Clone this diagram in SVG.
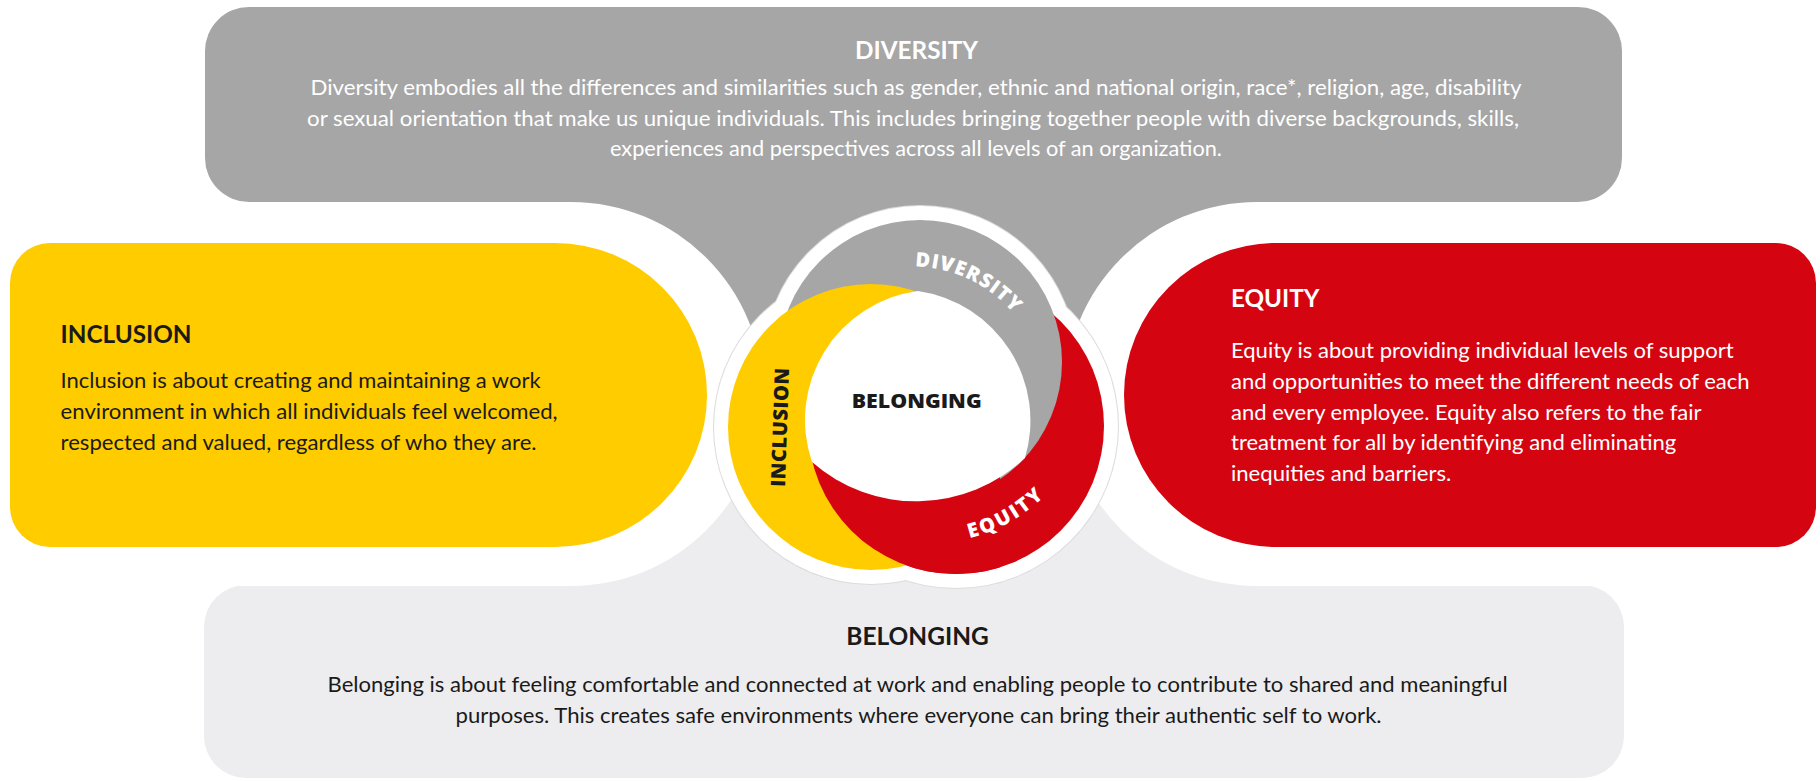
<svg xmlns="http://www.w3.org/2000/svg" width="1820" height="781" viewBox="0 0 1820 781">
  <style>
    .body { font-family: Lato, "Open Sans", "Liberation Sans", sans-serif; font-size: 21px; }
    .title { font-family: Lato, "Open Sans", "Liberation Sans", sans-serif; font-size: 25px; font-weight: 700; }
    .lbl { font-family: "Open Sans", "Liberation Sans", sans-serif; font-size: 20px; font-weight: 800; }
    .white { fill: #ffffff; }
    .dark { fill: #1a1a1a; }
    .gray { fill: #a6a6a6; }
    .yellow { fill: #ffcc00; }
    .red { fill: #d40511; }
    .light { fill: #ededef; }
  </style>
  <defs>
    <clipPath id="clipBottom"><rect x="700" y="448" width="300" height="160"/></clipPath>
    <clipPath id="clipLeft"><rect x="600" y="150" width="395" height="460"/></clipPath>
    <path id="arcDiv" d="M 915 266.5 A 133.5 133.5 0 0 1 1014.3 314.2"/>
    <path id="arcEq" d="M 969.4 538.2 A 163 163 0 0 0 1049.2 491.2"/>
  </defs>
  <rect width="1820" height="781" fill="#ffffff"/>

  <g id="diversity">
    <rect class="gray" x="205" y="7" width="1417" height="195" rx="44"/>
    <rect class="gray" x="560" y="150" width="710" height="275"/>
    <text class="title white" x="916.5" y="59" text-anchor="middle" textLength="123" lengthAdjust="spacingAndGlyphs">DIVERSITY</text>
    <text class="body white" x="916" y="95" text-anchor="middle" textLength="1211" lengthAdjust="spacingAndGlyphs">Diversity embodies all the differences and similarities such as gender, ethnic and national origin, race*, religion, age, disability</text>
    <text class="body white" x="913" y="125.5" text-anchor="middle" textLength="1212" lengthAdjust="spacingAndGlyphs">or sexual orientation that make us unique individuals. This includes bringing together people with diverse backgrounds, skills,</text>
    <text class="body white" x="916" y="156" text-anchor="middle" textLength="612" lengthAdjust="spacingAndGlyphs">experiences and perspectives across all levels of an organization.</text>
  </g>

  <g id="belonging">
    <rect class="light" x="204" y="585" width="1420" height="193" rx="42"/>
    <rect class="light" x="560" y="420" width="710" height="180"/>
    <text class="title dark" x="917.6" y="645" text-anchor="middle" textLength="142.5" lengthAdjust="spacingAndGlyphs">BELONGING</text>
    <text class="body dark" x="917.6" y="692" text-anchor="middle" textLength="1180" lengthAdjust="spacingAndGlyphs">Belonging is about feeling comfortable and connected at work and enabling people to contribute to shared and meaningful</text>
    <text class="body dark" x="918.6" y="723" text-anchor="middle" textLength="926" lengthAdjust="spacingAndGlyphs">purposes. This creates safe environments where everyone can bring their authentic self to work.</text>
  </g>

  <g id="inclusion">
    <path class="white" d="M -60 202 H 571 A 192 192 0 0 1 571 586 H -60 Z"/>
    <path class="yellow" d="M 50 243 H 555 A 152 152 0 0 1 555 547 H 50 A 40 40 0 0 1 10 507 V 283 A 40 40 0 0 1 50 243 Z"/>
    <text class="title dark" x="60.6" y="343" textLength="131" lengthAdjust="spacingAndGlyphs">INCLUSION</text>
    <text class="body dark" x="60.6" y="388" textLength="480" lengthAdjust="spacingAndGlyphs">Inclusion is about creating and maintaining a work</text>
    <text class="body dark" x="60.6" y="419" textLength="497" lengthAdjust="spacingAndGlyphs">environment in which all individuals feel welcomed,</text>
    <text class="body dark" x="60.6" y="450" textLength="476" lengthAdjust="spacingAndGlyphs">respected and valued, regardless of who they are.</text>
  </g>

  <g id="equity">
    <path class="white" d="M 1880 202 H 1257 A 192 192 0 0 0 1257 586 H 1880 Z"/>
    <path class="red" d="M 1776 243 H 1276 A 152 152 0 0 0 1276 547 H 1776 A 40 40 0 0 0 1816 507 V 283 A 40 40 0 0 0 1776 243 Z"/>
    <text class="title white" x="1231" y="307" textLength="88.5" lengthAdjust="spacingAndGlyphs">EQUITY</text>
    <text class="body white" x="1231" y="358" textLength="502.6" lengthAdjust="spacingAndGlyphs">Equity is about providing individual levels of support</text>
    <text class="body white" x="1231" y="388.5" textLength="518.7" lengthAdjust="spacingAndGlyphs">and opportunities to meet the different needs of each</text>
    <text class="body white" x="1231" y="419.5" textLength="470.5" lengthAdjust="spacingAndGlyphs">and every employee. Equity also refers to the fair</text>
    <text class="body white" x="1231" y="450" textLength="445.2" lengthAdjust="spacingAndGlyphs">treatment for all by identifying and eliminating</text>
    <text class="body white" x="1231" y="481" textLength="220.2" lengthAdjust="spacingAndGlyphs">inequities and barriers.</text>
  </g>

  <g id="center">
    <g stroke="#dcdcdc" stroke-width="2" fill="#ffffff">
      <circle cx="920" cy="362" r="156"/>
      <circle cx="871" cy="427" r="157"/>
      <circle cx="956" cy="426" r="162"/>
    </g>
    <g fill="#ffffff">
      <circle cx="920" cy="362" r="156"/>
      <circle cx="871" cy="427" r="157"/>
      <circle cx="956" cy="426" r="162"/>
    </g>
    <circle class="red" cx="956" cy="426" r="148"/>
    <circle class="gray" cx="920" cy="362" r="142"/>
    <circle class="yellow" cx="871" cy="427" r="143" clip-path="url(#clipLeft)"/>
    <circle class="red" cx="956" cy="426" r="148" clip-path="url(#clipBottom)"/>
    <path class="white" d="M 918 291 A 130 130 0 0 0 812 462 A 158 158 0 0 0 1025 458 A 131 131 0 0 0 918 291 Z"/>
    <text class="lbl white"><textPath href="#arcDiv" textLength="112" lengthAdjust="spacing">DIVERSITY</textPath></text>
    <text class="lbl white"><textPath href="#arcEq" textLength="86" lengthAdjust="spacing">EQUITY</textPath></text>
    <text class="lbl dark" transform="translate(785 487) rotate(-88)" textLength="119" lengthAdjust="spacing">INCLUSION</text>
    <text class="lbl dark" x="916.7" y="408" text-anchor="middle" textLength="130" lengthAdjust="spacingAndGlyphs">BELONGING</text>
  </g>

  <g id="connectors"/>
</svg>
